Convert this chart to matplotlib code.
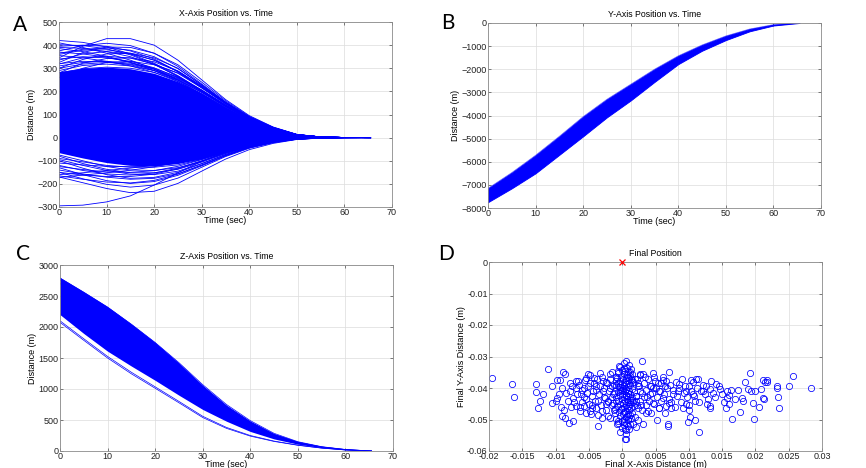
import numpy as np
import matplotlib
matplotlib.use('Agg')
import matplotlib.pyplot as plt

plt.rcParams['font.family'] = ['Liberation Sans', 'DejaVu Sans']

# shared time samples (sec)
t = [0, 5, 10, 15, 20, 25, 30, 35, 40, 45, 50, 55, 60, 65.5]

# ---- A: x position, dense core envelope + visible individual runs
x_core_hi = [285, 300, 305, 298, 278, 242, 192, 132, 80, 40, 13, 3, 0.5, 0]
x_core_lo = [-65, -88, -108, -120, -122, -112, -92, -62, -37, -18, -6, -1.5, -0.2, 0]
x_runs = [
    [420, 412, 392, 362, 322, 268, 205, 140, 84, 42, 13, 3, 0.5, 0],
    [345, 395, 428, 428, 400, 335, 250, 165, 95, 46, 14, 3, 0.5, 0],
    [375, 398, 408, 398, 365, 308, 232, 155, 90, 44, 13, 3, 0.5, 0],
    [402, 398, 384, 358, 318, 264, 200, 135, 80, 40, 12, 3, 0.5, 0],
    [325, 368, 392, 390, 365, 315, 240, 160, 92, 45, 14, 3, 0.5, 0],
    [300, 338, 362, 365, 345, 300, 228, 152, 88, 43, 13, 3, 0.5, 0],
    [410, 390, 365, 335, 297, 248, 188, 127, 76, 37, 11, 3, 0.5, 0],
    [360, 378, 380, 365, 335, 285, 218, 147, 86, 42, 13, 3, 0.5, 0],
    [390, 386, 372, 350, 316, 266, 205, 140, 82, 40, 12, 3, 0.5, 0],
    [318, 345, 352, 344, 318, 278, 215, 148, 86, 42, 13, 3, 0.5, 0],
    [280, 322, 342, 345, 328, 288, 224, 152, 88, 43, 13, 3, 0.5, 0],
    [370, 362, 348, 326, 296, 252, 196, 134, 80, 39, 12, 3, 0.5, 0],
    [340, 350, 345, 330, 302, 260, 202, 138, 82, 40, 12, 3, 0.5, 0],
    [300, 318, 325, 318, 296, 258, 202, 139, 82, 40, 12, 3, 0.5, 0],
    [385, 372, 352, 325, 290, 243, 186, 127, 75, 37, 11, 3, 0.5, 0],
    [260, 300, 325, 330, 315, 280, 220, 150, 87, 42, 13, 3, 0.5, 0],
    [395, 400, 395, 375, 340, 285, 215, 145, 85, 42, 13, 3, 0.5, 0],
    [335, 362, 372, 362, 335, 288, 222, 150, 87, 42, 13, 3, 0.5, 0],
    [310, 325, 330, 322, 300, 262, 206, 142, 84, 41, 12, 3, 0.5, 0],
    [355, 345, 330, 310, 282, 242, 190, 131, 78, 38, 12, 3, 0.5, 0],
    [290, 312, 318, 310, 290, 255, 200, 138, 82, 40, 12, 3, 0.5, 0],
    [320, 330, 328, 315, 290, 250, 196, 135, 80, 39, 12, 3, 0.5, 0],
    [365, 382, 388, 378, 350, 298, 228, 153, 89, 43, 13, 3, 0.5, 0],
    [280, 298, 305, 300, 282, 248, 196, 136, 81, 40, 12, 3, 0.5, 0],
    [-295, -292, -278, -252, -205, -152, -102, -62, -33, -15, -5, -1, 0, 0],
    [-170, -195, -220, -238, -232, -198, -145, -93, -52, -25, -8, -2, -0.3, 0],
    [-150, -178, -202, -214, -205, -175, -128, -82, -46, -22, -7, -2, -0.3, 0],
    [-130, -160, -186, -198, -190, -163, -122, -79, -44, -21, -7, -2, -0.3, 0],
    [-100, -132, -160, -176, -172, -150, -113, -73, -41, -19, -6, -1.5, -0.2, 0],
    [-172, -162, -152, -141, -126, -106, -82, -54, -31, -14, -5, -1, 0, 0],
    [-120, -142, -157, -162, -153, -132, -100, -65, -37, -17, -6, -1.5, -0.2, 0],
    [-80, -112, -137, -152, -152, -137, -106, -69, -39, -18, -6, -1.5, -0.2, 0],
    [-160, -152, -142, -132, -119, -101, -78, -51, -29, -13, -4, -1, 0, 0],
    [-140, -157, -171, -180, -176, -156, -120, -78, -43, -20, -7, -2, -0.3, 0],
    [-90, -105, -120, -128, -128, -118, -94, -62, -35, -17, -5, -1.2, -0.2, 0],
    [-110, -118, -124, -126, -122, -110, -88, -58, -33, -16, -5, -1.2, -0.2, 0],
    [-125, -138, -148, -150, -143, -124, -95, -62, -35, -17, -5, -1.3, -0.2, 0],
    [-95, -120, -142, -158, -160, -145, -112, -73, -41, -19, -6, -1.5, -0.2, 0],
    [-150, -162, -168, -168, -158, -135, -102, -66, -37, -17, -6, -1.5, -0.2, 0],
    [-75, -100, -125, -140, -142, -130, -103, -68, -39, -18, -6, -1.5, -0.2, 0],
    [-165, -180, -192, -196, -185, -158, -118, -76, -42, -20, -6, -1.5, -0.2, 0],
]

# ---- B: y position band
y_hi = [-7150, -6470, -5720, -4900, -4050, -3300, -2650, -2000, -1420, -950, -560, -260, -70, 0]
y_lo = [-7750, -7150, -6500, -5700, -4900, -4080, -3350, -2550, -1780, -1200, -740, -360, -110, 0]

# ---- C: z position band + stray runs
z_hi = [2800, 2570, 2330, 2050, 1753, 1420, 1060, 740, 484, 280, 150, 70, 25, 0]
z_lo = [2200, 1895, 1610, 1370, 1140, 900, 670, 480, 315, 195, 110, 55, 20, 0]
z_runs = [
    [2100, 1810, 1525, 1270, 1035, 800, 560, 380, 250, 160, 95, 48, 17, 0],
    [2075, 1785, 1500, 1245, 1012, 778, 540, 365, 240, 154, 92, 46, 16, 0],
    [2790, 2560, 2320, 2045, 1750, 1425, 1070, 750, 490, 285, 150, 70, 25, 0],
    [2760, 2520, 2290, 2020, 1720, 1390, 1030, 710, 460, 265, 140, 65, 23, 0],
    [2700, 2480, 2240, 1980, 1700, 1380, 1040, 720, 465, 268, 142, 66, 23, 0],
]

# ---- D: final positions (m)
final_x = [
    0.0006, 0.0002, 0.0010, -0.0003, 0.0007, 0.0013, 0.0000, 0.0004, 0.0009, -0.0006,
    0.0015, 0.0002, 0.0007, 0.0011, -0.0002, 0.0005, -0.0008, 0.0013, 0.0001, 0.0008,
    -0.0004, 0.0004, 0.0016, 0.0010, -0.0001, 0.0006, -0.0010, 0.0012, 0.0003, 0.0008,
    -0.0005, 0.0001, 0.0014, 0.0006, -0.0002, 0.0010, 0.0004, -0.0007, 0.0017, 0.0008,
    0.0000, 0.0012, -0.0004, 0.0005, 0.0009, -0.0009, 0.0002, 0.0014, 0.0007, -0.0001,
    0.0011, 0.0004, -0.0006, 0.0016, 0.0008, 0.0001, 0.0012, -0.0003, 0.0005, 0.0010,
    -0.0008, 0.0003, 0.0013, 0.0007, -0.0002, 0.0010, 0.0004, -0.0005, 0.0015, 0.0008,
    0.0001, 0.0011, -0.0004, 0.0006, 0.0013, 0.0002, 0.0009, -0.0001, 0.0005, 0.0012,
    0.0003, 0.0008, 0.0000, 0.0006, 0.0004,
    -0.0196, -0.0165, -0.0162, -0.0129, -0.0129, -0.0126, -0.0111, -0.0119, -0.0124, -0.0106,
    -0.0098, -0.0098, -0.0089, -0.0086, -0.0092, -0.0091, -0.0086, -0.0080, -0.0074, -0.0078,
    -0.0066, -0.0036, -0.0006, 0.0006, 0.0004, 0.0031, 0.0069, 0.0069, 0.0102, 0.0110,
    0.0116, 0.0099, 0.0165, 0.0198, 0.0283, 0.0257, 0.0250, 0.0233, 0.0233, 0.0234,
    0.0236, 0.0192, 0.0184, 0.0189, 0.0194, 0.0200, 0.0209, 0.0211, 0.0214, 0.0217,
    0.0218, 0.0211, 0.0213, 0.0205, 0.0197, 0.0180, 0.0182, 0.0177, 0.0174, 0.0158,
    0.0160, 0.0157, 0.0156, 0.0161, 0.0147, 0.0141, 0.0134, 0.0126, 0.0132, 0.0129,
    0.0132, 0.0132, 0.0121, 0.0114, 0.0111, 0.0104, 0.0101, 0.0096, 0.0106, 0.0109,
    0.0096, 0.0091, 0.0101, 0.0086, 0.0084, 0.0076, 0.0071, 0.0074, 0.0066, 0.0070,
    0.0061, 0.0064, 0.0056, 0.0061, 0.0066, 0.0056, 0.0046, 0.0049, 0.0046, 0.0041,
    0.0046, 0.0039, 0.0031, 0.0029, 0.0024, 0.0026, 0.0021, 0.0024, 0.0019, 0.0016,
    -0.0070, -0.0069, -0.0074, -0.0069, -0.0064, -0.0062, -0.0057, -0.0054, -0.0052, -0.0049,
    -0.0054, -0.0057, -0.0049, -0.0047, -0.0044, -0.0039, -0.0042, -0.0036, -0.0039, -0.0031,
    -0.0034, -0.0029, -0.0029, -0.0026, -0.0024, -0.0021, -0.0019, -0.0016, -0.0014, -0.0014,
    -0.0011, -0.0009, -0.0009, -0.0006, -0.0005, -0.0004,
    0.0022, 0.0025, 0.0020, 0.0028, 0.0034, 0.0037, 0.0043, 0.0035, 0.0052, 0.0058,
    -0.0015, -0.0018, -0.0022, -0.0013, -0.0025, -0.0030, -0.0045, -0.0060, 0.0021, 0.0027,
]
final_y = [
    -0.0313, -0.0322, -0.0328, -0.0333, -0.0336, -0.0340, -0.0344, -0.0347, -0.0350, -0.0352,
    -0.0355, -0.0357, -0.0360, -0.0362, -0.0364, -0.0367, -0.0369, -0.0371, -0.0373, -0.0376,
    -0.0378, -0.0380, -0.0382, -0.0384, -0.0386, -0.0388, -0.0390, -0.0392, -0.0394, -0.0396,
    -0.0398, -0.0400, -0.0402, -0.0404, -0.0406, -0.0408, -0.0410, -0.0412, -0.0414, -0.0416,
    -0.0418, -0.0420, -0.0422, -0.0424, -0.0426, -0.0428, -0.0430, -0.0432, -0.0434, -0.0436,
    -0.0438, -0.0440, -0.0442, -0.0444, -0.0446, -0.0448, -0.0450, -0.0452, -0.0454, -0.0456,
    -0.0458, -0.0460, -0.0462, -0.0465, -0.0467, -0.0470, -0.0473, -0.0476, -0.0478, -0.0481,
    -0.0484, -0.0487, -0.0490, -0.0493, -0.0496, -0.0499, -0.0502, -0.0506, -0.0510, -0.0514,
    -0.0518, -0.0522, -0.0527, -0.0532, -0.0563,
    -0.0367, -0.0388, -0.0427, -0.0386, -0.0413, -0.0463, -0.0340, -0.0420, -0.0441, -0.0449,
    -0.0431, -0.0375, -0.0348, -0.0354, -0.0459, -0.0488, -0.0494, -0.0510, -0.0505, -0.0410,
    -0.0378, -0.0521, -0.0510, -0.0563, -0.0531, -0.0513, -0.0513, -0.0522, -0.0492, -0.0503,
    -0.0539, -0.0507, -0.0497, -0.0499, -0.0401, -0.0362, -0.0394, -0.0394, -0.0401, -0.0427,
    -0.0462, -0.0351, -0.0381, -0.0404, -0.0409, -0.0409, -0.0404, -0.0375, -0.0382, -0.0380,
    -0.0375, -0.0431, -0.0435, -0.0459, -0.0447, -0.0431, -0.0441, -0.0475, -0.0406, -0.0410,
    -0.0423, -0.0431, -0.0462, -0.0452, -0.0404, -0.0388, -0.0378, -0.0394, -0.0404, -0.0436,
    -0.0457, -0.0462, -0.0410, -0.0372, -0.0370, -0.0376, -0.0394, -0.0410, -0.0420, -0.0441,
    -0.0452, -0.0462, -0.0471, -0.0388, -0.0410, -0.0420, -0.0447, -0.0462, -0.0378, -0.0348,
    -0.0365, -0.0394, -0.0410, -0.0431, -0.0457, -0.0462, -0.0351, -0.0378, -0.0399, -0.0420,
    -0.0447, -0.0473, -0.0357, -0.0314, -0.0383, -0.0410, -0.0441, -0.0462, -0.0492, -0.0515,
    -0.0378, -0.0399, -0.0431, -0.0457, -0.0473, -0.0420, -0.0399, -0.0367, -0.0357, -0.0383,
    -0.0436, -0.0457, -0.0473, -0.0484, -0.0410, -0.0394, -0.0367, -0.0441, -0.0462, -0.0473,
    -0.0351, -0.0378, -0.0410, -0.0431, -0.0452, -0.0489, -0.0357, -0.0394, -0.0420, -0.0447,
    -0.0468, -0.0499, -0.0378, -0.0346, -0.0330, -0.0410,
    -0.0370, -0.0395, -0.0425, -0.0455, -0.0365, -0.0430, -0.0395, -0.0480, -0.0500, -0.0385,
    -0.0350, -0.0400, -0.0440, -0.0470, -0.0380, -0.0495, -0.0455, -0.0445, -0.0525, -0.0360,
]

# more final positions, left cloud / right cloud / centre column
extra_x = [
    -0.0075, -0.0072, -0.0068, -0.0065, -0.0063, -0.0060, -0.0058, -0.0056, -0.0055, -0.0053,
    -0.0051, -0.0050, -0.0048, -0.0046, -0.0045, -0.0043, -0.0041, -0.0040, -0.0038, -0.0037,
    -0.0035, -0.0033, -0.0032, -0.0030, -0.0028, -0.0027, -0.0025, -0.0023, -0.0022, -0.0020,
    -0.0019, -0.0018, -0.0016, -0.0015, -0.0013, -0.0012, -0.0011, -0.0010, -0.0009, -0.0008,
    -0.0085, -0.0082, -0.0079, -0.0077, -0.0090, -0.0095, -0.0100, -0.0105, -0.0088, -0.0093,
    0.0019, 0.0020, 0.0022, 0.0023, 0.0024, 0.0026, 0.0027, 0.0029, 0.0030, 0.0032,
    0.0033, 0.0035, 0.0036, 0.0038, 0.0040, 0.0041, 0.0043, 0.0045, 0.0047, 0.0048,
    0.0050, 0.0052, 0.0054, 0.0055, 0.0057, 0.0059, 0.0061, 0.0063, 0.0065, 0.0067,
    0.0070, 0.0072, 0.0074, 0.0077, 0.0079, 0.0081, 0.0083, 0.0086, 0.0088, 0.0090,
    0.0093, 0.0095, 0.0098, 0.0100, 0.0103, 0.0106, 0.0108, 0.0112, 0.0115, 0.0118,
    0.0122, 0.0125, 0.0128, 0.0136, 0.0140, 0.0145, 0.0150, 0.0153, 0.0163, 0.0170,
    0.0003, 0.0009, -0.0003, 0.0006, 0.0011, -0.0001, 0.0007, 0.0002, 0.0010, -0.0004,
    0.0014, 0.0000, 0.0015, 0.0003, 0.0009, 0.0005, -0.0006, 0.0012, -0.0007, 0.0017,
]
extra_y = [
    -0.0395, -0.0445, -0.0420, -0.0390, -0.0460, -0.0405, -0.0430, -0.0375, -0.0480, -0.0415,
    -0.0395, -0.0450, -0.0360, -0.0425, -0.0465, -0.0385, -0.0440, -0.0405, -0.0370, -0.0485,
    -0.0420, -0.0395, -0.0455, -0.0365, -0.0430, -0.0400, -0.0470, -0.0385, -0.0445, -0.0410,
    -0.0370, -0.0495, -0.0430, -0.0455, -0.0390, -0.0415, -0.0480, -0.0365, -0.0440, -0.0515,
    -0.0415, -0.0440, -0.0385, -0.0460, -0.0400, -0.0420, -0.0440, -0.0395, -0.0470, -0.0375,
    -0.0370, -0.0425, -0.0455, -0.0395, -0.0500, -0.0355, -0.0440, -0.0415, -0.0470, -0.0385,
    -0.0430, -0.0405, -0.0455, -0.0370, -0.0440, -0.0395, -0.0480, -0.0415, -0.0365, -0.0450,
    -0.0400, -0.0430, -0.0385, -0.0465, -0.0410, -0.0440, -0.0375, -0.0420, -0.0480, -0.0400,
    -0.0435, -0.0390, -0.0445, -0.0405, -0.0460, -0.0380, -0.0425, -0.0400, -0.0445, -0.0370,
    -0.0415, -0.0395, -0.0430, -0.0455, -0.0410, -0.0380, -0.0425, -0.0400, -0.0445, -0.0410,
    -0.0390, -0.0420, -0.0450, -0.0415, -0.0430, -0.0395, -0.0420, -0.0445, -0.0405, -0.0435,
    -0.0338, -0.0366, -0.0397, -0.0421, -0.0445, -0.0463, -0.0489, -0.0508, -0.0530, -0.0540,
    -0.0375, -0.0407, -0.0437, -0.0475, -0.0498, -0.0545, -0.0505, -0.0350, -0.0383, -0.0458,
]

# target point
target_x = [0]
target_y = [0]

blue = (0, 0, 1)
dpi = 100
fig = plt.figure(figsize=(8.66, 4.68), dpi=dpi)

boxes = {
    'A': [59 / 866, 1 - 207 / 468, 333 / 866, 185 / 468],
    'B': [488 / 866, 1 - 208 / 468, 333 / 866, 185 / 468],
    'C': [60 / 866, 1 - 451 / 468, 333 / 866, 186 / 468],
    'D': [489 / 866, 1 - 451 / 468, 333 / 866, 189 / 468],
}
axs = {k: fig.add_axes(v) for k, v in boxes.items()}


def style(ax, title, xlabel, ylabel):
    ax.set_title(title, fontsize=6.3, pad=4)
    ax.set_xlabel(xlabel, fontsize=6.5, labelpad=-1)
    ax.set_ylabel(ylabel, fontsize=6.5, labelpad=1)
    ax.grid(True, color='#dcdcdc', linewidth=0.5)
    ax.set_axisbelow(True)
    ax.tick_params(labelsize=6.5, direction='in', length=2, width=0.4,
                   top=True, right=True, pad=1, colors='#222222')
    for s in ax.spines.values():
        s.set_color('#8a8a8a')
        s.set_linewidth(0.6)


ax = axs['A']
ax.fill_between(t, x_core_lo, x_core_hi, color=blue, linewidth=0)
for r in x_runs:
    ax.plot(t, r, color=blue, linewidth=0.6)
ax.set_xlim(0, 70)
ax.set_ylim(-300, 500)
ax.set_yticks(range(-300, 501, 100))
style(ax, 'X-Axis Position vs. Time', 'Time (sec)', 'Distance (m)')

ax = axs['B']
ax.fill_between(t, y_lo, y_hi, color=blue, linewidth=0.6)
ax.plot(t, y_hi, color=blue, linewidth=0.5, alpha=0.6)
ax.plot(t, y_lo, color=blue, linewidth=0.5, alpha=0.6)
ax.set_xlim(0, 70)
ax.set_ylim(-8000, 0)
ax.set_yticks(range(-8000, 1, 1000))
style(ax, 'Y-Axis Position vs. Time', 'Time (sec)', 'Distance (m)')

ax = axs['C']
ax.fill_between(t, z_lo, z_hi, color=blue, linewidth=0)
for r in z_runs:
    ax.plot(t, r, color=blue, linewidth=0.5)
ax.set_xlim(0, 70)
ax.set_ylim(0, 3000)
ax.set_yticks(range(0, 3001, 500))
style(ax, 'Z-Axis Position vs. Time', 'Time (sec)', 'Distance (m)')

ax = axs['D']
ax.plot(final_x, final_y, 'o', mfc='none', mec=blue, ms=4.5, mew=0.55)
ax.plot(extra_x, extra_y, 'o', mfc='none', mec=blue, ms=4.5, mew=0.55)
ax.plot(target_x, target_y, 'x', color='red', ms=4, mew=0.9, clip_on=False, zorder=5)
ax.set_xlim(-0.02, 0.03)
ax.set_ylim(-0.06, 0)
xt = [-0.02, -0.015, -0.01, -0.005, 0, 0.005, 0.01, 0.015, 0.02, 0.025, 0.03]
ax.set_xticks(xt)
ax.set_xticklabels(['-0.02', '-0.015', '-0.01', '-0.005', '0', '0.005', '0.01',
                    '0.015', '0.02', '0.025', '0.03'])
yt = [-0.06, -0.05, -0.04, -0.03, -0.02, -0.01, 0]
ax.set_yticks(yt)
ax.set_yticklabels(['-0.06', '-0.05', '-0.04', '-0.03', '-0.02', '-0.01', '0'])
style(ax, 'Final Position', 'Final X-Axis Distance (m)', 'Final Y-Axis Distance (m)')

# panel letters
for k, (px, py) in {'A': (20, 25), 'B': (448, 23), 'C': (23, 254), 'D': (446, 254)}.items():
    fig.text(px / 866, 1 - py / 468, k, fontsize=15, family=['Lato', 'DejaVu Sans'],
             ha='center', va='center')

fig.savefig('out.png', dpi=dpi)
